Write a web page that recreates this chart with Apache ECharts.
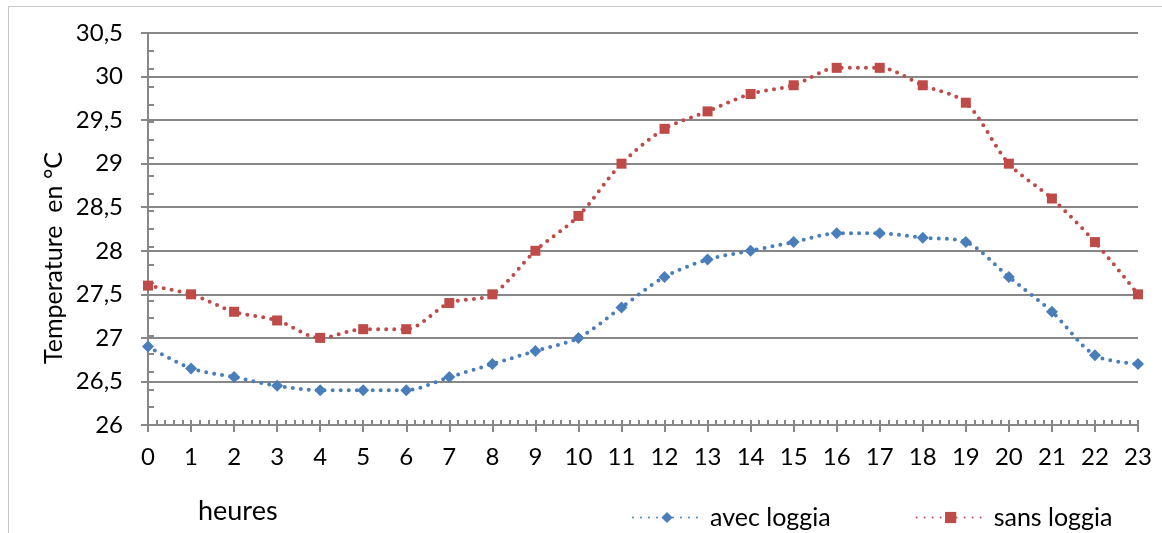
<!DOCTYPE html>
<html>
<head>
<meta charset="utf-8">
<script src="https://cdn.jsdelivr.net/npm/echarts@6/dist/echarts.min.js"></script>
<style>
  html, body { margin: 0; padding: 0; background: #fff; }
  #chart { width: 1162px; height: 533px; }
</style>
</head>
<body>
<div id="chart"></div>
<script>
var hours = ['0','1','2','3','4','5','6','7','8','9','10','11','12','13','14','15','16','17','18','19','20','21','22','23'];
var avecLoggia = [26.9, 26.65, 26.55, 26.45, 26.4, 26.4, 26.4, 26.55, 26.7, 26.85, 27.0, 27.35, 27.7, 27.9, 28.0, 28.1, 28.2, 28.2, 28.15, 28.1, 27.7, 27.3, 26.8, 26.7];
var sansLoggia = [27.6, 27.5, 27.3, 27.2, 27.0, 27.1, 27.1, 27.4, 27.5, 28.0, 28.4, 29.0, 29.4, 29.6, 29.8, 29.9, 30.1, 30.1, 29.9, 29.7, 29.0, 28.6, 28.1, 27.5];

var font = 'Lato, "Open Sans", sans-serif';
var axisGrey = '#878787';

var myChart = echarts.init(document.getElementById('chart'));

var option = {
  animation: false,
  textStyle: { fontFamily: font, color: '#000' },
  graphic: [{
    type: 'rect',
    shape: { x: 8.5, y: 6.5, width: 1160, height: 540 },
    style: { fill: 'none', stroke: '#c6c6c6', lineWidth: 1 },
    z: -1
  }, {
    type: 'text',
    x: 198, y: 511,
    style: { text: 'heures', font: '27px ' + font, fill: '#000', verticalAlign: 'middle' }
  }, {
    type: 'text',
    x: 54, y: 258,
    rotation: Math.PI / 2,
    style: { text: 'Temperature  en °C', font: '25px ' + font, fill: '#000', align: 'center', verticalAlign: 'middle' }
  }],
  grid: { left: 148, right: 24, top: 33, bottom: 108 },
  legend: {
    left: 627, top: 500,
    itemWidth: 68, itemHeight: 14, itemGap: 85,
    textStyle: { fontSize: 25, fontFamily: font, color: '#000', padding: [0, 0, 0, 4] },
    data: ['avec loggia', 'sans loggia']
  },
  xAxis: [{
    type: 'category',
    data: hours,
    boundaryGap: false,
    axisLine: { lineStyle: { color: axisGrey, width: 2 } },
    axisTick: { alignWithLabel: true, length: 7, lineStyle: { color: axisGrey, width: 2 } },
    axisLabel: { fontSize: 24, color: '#000', margin: 20, fontFamily: font },
    splitLine: { show: false }
  }, {
    // small ticks inside along the bottom
    type: 'value',
    min: 0, max: 23, interval: 0.2,
    position: 'bottom',
    axisLine: { show: false },
    axisTick: { inside: true, length: 5, lineStyle: { color: axisGrey, width: 2 } },
    axisLabel: { show: false },
    splitLine: { show: false }
  }],
  yAxis: [{
    type: 'value',
    min: 26, max: 30.5, interval: 0.5,
    axisLine: { show: true, lineStyle: { color: axisGrey, width: 2 } },
    axisTick: { show: true, length: 7, lineStyle: { color: axisGrey, width: 2 } },
    axisLabel: {
      fontSize: 24, color: '#000', margin: 25, fontFamily: font,
      formatter: function (v) { return String(v).replace('.', ','); }
    },
    splitLine: { lineStyle: { color: axisGrey, width: 2 } }
  }, {
    // minor ticks inside the y axis
    type: 'value',
    min: 26, max: 30.4, interval: 0.2,
    position: 'left',
    axisLine: { show: false },
    axisTick: { inside: true, length: 6, lineStyle: { color: axisGrey, width: 2 } },
    axisLabel: { show: false },
    splitLine: { show: false }
  }],
  series: [{
    name: 'avec loggia',
    type: 'line',
    data: avecLoggia,
    smooth: 0.3,
    symbol: 'diamond',
    symbolSize: 12,
    itemStyle: { color: '#4a7ebb' },
    lineStyle: { color: '#4a7ebb', width: 4, type: [0, 8], cap: 'round' }
  }, {
    name: 'sans loggia',
    type: 'line',
    data: sansLoggia,
    smooth: 0.3,
    symbol: 'rect',
    symbolSize: 10,
    itemStyle: { color: '#be4b48' },
    lineStyle: { color: '#be4b48', width: 4, type: [0, 8], cap: 'round' }
  }]
};

myChart.setOption(option);
</script>
</body>
</html>
